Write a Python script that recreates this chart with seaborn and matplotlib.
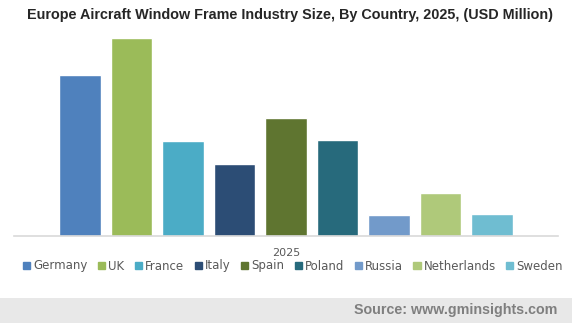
import matplotlib
matplotlib.use("Agg")
import matplotlib.pyplot as plt
import seaborn as sns
import pandas as pd
from matplotlib.patches import Rectangle

countries = ["Germany", "UK", "France", "Italy", "Spain", "Poland", "Russia", "Netherlands", "Sweden"]
values = [161, 198, 95, 72, 118, 96, 21, 43, 22]
year_label = "2025"
colors = ["#4F81BD", "#9BBB59", "#4BACC6", "#2C4D75", "#5F7530", "#276A7C", "#729ACA", "#AFC97A", "#6FBDD1"]
title = "Europe Aircraft Window Frame Industry Size, By Country, 2025, (USD Million)"
source = "Source: www.gminsights.com"

df = pd.DataFrame({"year": [year_label] * len(countries), "country": countries, "value": values})

sns.set_style("white")
plt.rcParams["font.family"] = ["DejaVu Sans"]

W, H = 572, 323
fig = plt.figure(figsize=(W / 100, H / 100), dpi=100)
ax = fig.add_axes([14 / W, (H - 236) / H, (558 - 14) / W, (236 - 30) / H])

sns.barplot(data=df, x="year", y="value", hue="country", hue_order=countries,
            palette=colors, width=0.852, gap=0.2, ax=ax, legend=False, saturation=1)

ax.set_xlim(-0.5, 0.5)
ax.set_ylim(0, 206)
ax.set_xlabel("")
ax.set_ylabel("")
ax.set_yticks([])
ax.tick_params(axis="x", length=0, colors="#595959", labelsize=8, pad=9)
for s in ["top", "right", "left"]:
    ax.spines[s].set_visible(False)
ax.spines["bottom"].set_color("#D9D9D9")
ax.spines["bottom"].set_linewidth(1.2)

fig.text(290 / W, 1 - 15 / H, title, ha="center", va="center", fontsize=10.4,
         fontweight="bold", color="#262626", family=["Liberation Sans", "DejaVu Sans"])

handles = [Rectangle((0, 0), 1, 1, color=c) for c in colors]
fig.legend(handles, countries, loc="center", bbox_to_anchor=(293 / W, 1 - 266 / H), ncol=9,
           frameon=False, fontsize=8.5, handlelength=0.6, handleheight=0.6,
           handletextpad=0.25, columnspacing=0.9, labelcolor="#595959", borderpad=0)

fig.patches.append(Rectangle((0, 0), 1, 25 / H, transform=fig.transFigure,
                             facecolor="#E8E8E8", edgecolor="none", zorder=0))
fig.text(557 / W, 1 - 310 / H, source, ha="right", va="center", fontsize=10.3,
         fontweight="bold", color="#7F7F7F", family=["Liberation Sans", "DejaVu Sans"])

fig.savefig("out.png", dpi=100, facecolor="white")
